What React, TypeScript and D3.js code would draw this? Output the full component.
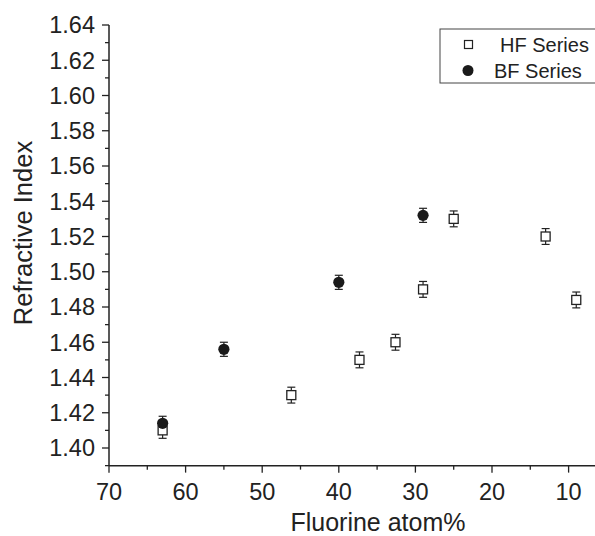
import React from "react";
import * as d3 from "d3";

const hfX = [63, 46.2, 37.3, 32.6, 29, 25, 13, 9];
const hfY = [1.41, 1.43, 1.45, 1.46, 1.49, 1.53, 1.52, 1.484];
const hfErr = [0.0045, 0.0045, 0.0045, 0.0045, 0.0045, 0.0045, 0.0045, 0.0045];
const bfX = [63, 55, 40, 29];
const bfY = [1.414, 1.456, 1.494, 1.532];
const bfErr = [0.004, 0.004, 0.004, 0.004];
const xTicks = [70, 60, 50, 40, 30, 20, 10];
const xMinor = [65, 55, 45, 35, 25, 15, 5];
const yTicks = [1.4, 1.42, 1.44, 1.46, 1.48, 1.5, 1.52, 1.54, 1.56, 1.58, 1.6, 1.62, 1.64];
const yMinor = [1.39, 1.41, 1.43, 1.45, 1.47, 1.49, 1.51, 1.53, 1.55, 1.57, 1.59, 1.61, 1.63];
const seriesNames = ["HF Series", "BF Series"];

const W = 595;
const H = 536;
const FONT = "'Liberation Sans', Arial, Helvetica, sans-serif";

export default function App() {
  const x = d3.scaleLinear().domain([70, 10]).range([109, 568.6]);
  const y = d3.scaleLinear().domain([1.4, 1.64]).range([448, 25]);
  const axisY = y(1.39);
  const axisX = x(70);
  const hf = hfX.map((v, i) => ({ x: v, y: hfY[i], e: hfErr[i] }));
  const bf = bfX.map((v, i) => ({ x: v, y: bfY[i], e: bfErr[i] }));
  const cap = 4;
  const sq = 9;
  const errBar = (d: any, key: string) => (
    <g key={key} stroke="#222" strokeWidth={1.2}>
      <line x1={x(d.x)} x2={x(d.x)} y1={y(d.y - d.e)} y2={y(d.y + d.e)} />
      <line x1={x(d.x) - cap} x2={x(d.x) + cap} y1={y(d.y - d.e)} y2={y(d.y - d.e)} />
      <line x1={x(d.x) - cap} x2={x(d.x) + cap} y1={y(d.y + d.e)} y2={y(d.y + d.e)} />
    </g>
  );
  return (
    <svg width={W} height={H} style={{ position: "absolute", left: 0, top: 0, background: "#fff" }} fontFamily={FONT}>
      <rect x={0} y={0} width={W} height={H} fill="#fff" />
      {/* y axis */}
      <line x1={axisX} x2={axisX} y1={y(1.64)} y2={axisY} stroke="#222" strokeWidth={1.5} />
      {yTicks.map((t) => (
        <g key={"yt" + t}>
          <line x1={axisX - 7} x2={axisX} y1={y(t)} y2={y(t)} stroke="#222" strokeWidth={1.3} />
          <text x={axisX - 14} y={y(t)} dy="0.36em" textAnchor="end" fontSize={23.5} fill="#222">
            {t.toFixed(2)}
          </text>
        </g>
      ))}
      {yMinor.map((t) => (
        <line key={"ym" + t} x1={axisX - 4} x2={axisX} y1={y(t)} y2={y(t)} stroke="#222" strokeWidth={1.3} />
      ))}
      {/* x axis */}
      <line x1={axisX} x2={W} y1={axisY} y2={axisY} stroke="#222" strokeWidth={1.5} />
      {xTicks.map((t) => (
        <g key={"xt" + t}>
          <line x1={x(t)} x2={x(t)} y1={axisY} y2={axisY + 7} stroke="#222" strokeWidth={1.3} />
          <text x={x(t)} y={500} textAnchor="middle" fontSize={23.5} fill="#222">
            {t}
          </text>
        </g>
      ))}
      {xMinor.map((t) => (
        <line key={"xm" + t} x1={x(t)} x2={x(t)} y1={axisY} y2={axisY + 4} stroke="#222" strokeWidth={1.3} />
      ))}
      {/* titles */}
      <text x={378} y={531} textAnchor="middle" fontSize={25} fill="#222">
        Fluorine atom%
      </text>
      <text transform={`translate(32,233) rotate(-90)`} textAnchor="middle" fontSize={25.5} fill="#222">
        Refractive Index
      </text>
      {/* error bars */}
      {hf.map((d, i) => errBar(d, "he" + i))}
      {bf.map((d, i) => errBar(d, "be" + i))}
      {/* markers */}
      {hf.map((d, i) => (
        <rect key={"h" + i} x={x(d.x) - sq / 2} y={y(d.y) - sq / 2} width={sq} height={sq} fill="#fff" stroke="#222" strokeWidth={1.3} />
      ))}
      {bf.map((d, i) => (
        <circle key={"b" + i} cx={x(d.x)} cy={y(d.y)} r={5.6} fill="#1a1a1a" />
      ))}
      {/* legend */}
      <rect x={440} y={29} width={170} height={54} fill="#fff" stroke="#444" strokeWidth={1} />
      <rect x={464.5} y={40.5} width={8} height={8} fill="#fff" stroke="#222" strokeWidth={1.2} />
      <circle cx={468} cy={70.5} r={5.5} fill="#1a1a1a" />
      <text x={500} y={44.5} dy="0.36em" fontSize={20} fill="#222">
        {seriesNames[0]}
      </text>
      <text x={494} y={70.5} dy="0.36em" fontSize={20} fill="#222">
        {seriesNames[1]}
      </text>
    </svg>
  );
}
